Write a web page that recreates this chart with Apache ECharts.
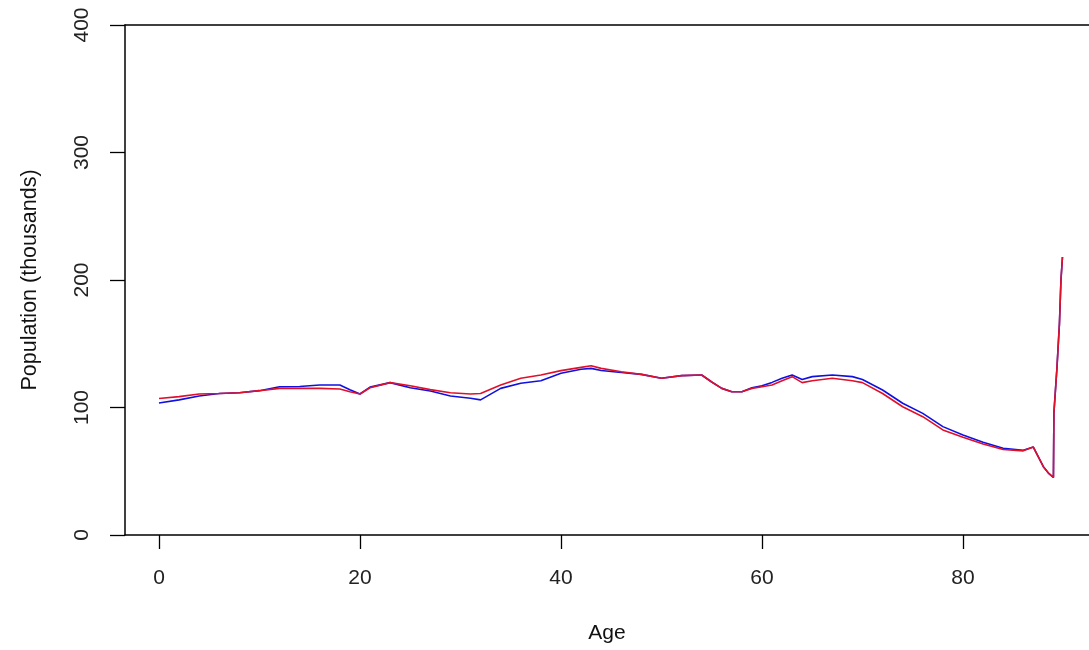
<!DOCTYPE html>
<html><head><meta charset="utf-8">
<script src="https://cdn.jsdelivr.net/npm/echarts@6/dist/echarts.min.js"></script>
<style>html,body{margin:0;padding:0;background:#fff}#c{width:1089px;height:650px}</style>
</head><body><div id="c"></div>
<script>
const ages = [0,2,4,6,8,10,12,14,16,18,19,20,21,23,25,27,29,31,32,34,36,38,40,42,43,44,46,48,50,52,54,55,56,57,58,59,60,61,62,63,64,65,67,69,70,72,74,76,78,80,82,84,86,87,88,88.5,89,89.05,89.35,89.6,89.75,89.9];
const blueSeries = [103.5,106,109,111,111.6,113.2,116.3,116.5,117.6,117.6,114,110.6,116,119.5,115.5,113,109,107.2,106,115,119,121,126.8,130,130.7,129,127.5,126,123,125,125.5,120,115,112.4,112.4,115.5,117,119.7,122.9,125.5,122,124.2,125.5,124.2,122,113.7,103.3,95.4,85,78.4,72.7,68,66.5,69,53.6,48.6,45.2,96,131,166,200,218];
const redSeries = [107,108.5,110.6,111,111.6,113.2,115,115,115,114.5,112.4,110.6,115.5,119.5,117,114,111.6,110.6,111,117.6,122.9,125.5,128.9,131.5,132.8,130.7,128,126,123,125,125.5,120,115,112.4,112.4,115,116.3,117.6,121,124.2,119.5,121,123,121,119.5,111,100.6,92.8,82.4,76.6,71.4,67,66,69,53.6,48.6,45.2,96,131,166,200,218];
const xTicks = [0,20,40,60,80];
const yTicks = [0,100,200,300,400];

const chart = echarts.init(document.getElementById('c'), null, {renderer:'canvas'});
const font = 'Liberation Sans, Arial, sans-serif';
const axisLineStyle = {color:'#000', width:1.5};
chart.setOption({
  animation:false,
  backgroundColor:'#fff',
  grid:{left:125, top:25, right:0, height:510},
  xAxis:[{
    type:'value', min:-3.38, max:92.54, position:'bottom',
    name:'Age', nameLocation:'middle', nameGap:88,
    nameTextStyle:{fontFamily:font, fontSize:21, color:'#111'},
    axisLine:{show:true, onZero:false, lineStyle:axisLineStyle},
    splitLine:{show:false},
    axisTick:{show:true, length:14, lineStyle:{color:'#000', width:1.3}, customValues:xTicks},
    axisLabel:{show:true, margin:33, fontFamily:font, fontSize:21, color:'#222', customValues:xTicks}
  },{
    type:'value', min:-3.38, max:92.54, position:'top',
    axisLine:{show:true, onZero:false, lineStyle:axisLineStyle},
    splitLine:{show:false}, axisTick:{show:false}, axisLabel:{show:false}
  }],
  yAxis:{
    type:'value', min:0, max:400, interval:100,
    name:'Population (thousands)', nameLocation:'middle', nameGap:84,
    nameTextStyle:{fontFamily:font, fontSize:21.5, color:'#111'},
    axisLine:{show:true, onZero:false, lineStyle:axisLineStyle},
    splitLine:{show:false},
    axisTick:{show:true, length:15, lineStyle:{color:'#000', width:1.3}, customValues:yTicks},
    axisLabel:{show:true, rotate:90, margin:32, fontFamily:font, fontSize:21, color:'#222', customValues:yTicks}
  },
  series:[
    {type:'line', name:'blue', xAxisIndex:0, data:ages.map((a,i)=>[a,blueSeries[i]]), showSymbol:false, lineStyle:{color:'#1010e0', width:1.6}, itemStyle:{color:'#1010e0'}},
    {type:'line', name:'red', xAxisIndex:0, data:ages.map((a,i)=>[a,redSeries[i]]), showSymbol:false, lineStyle:{color:'#e0102a', width:1.6}, itemStyle:{color:'#e0102a'}}
  ]
});
</script></body></html>
